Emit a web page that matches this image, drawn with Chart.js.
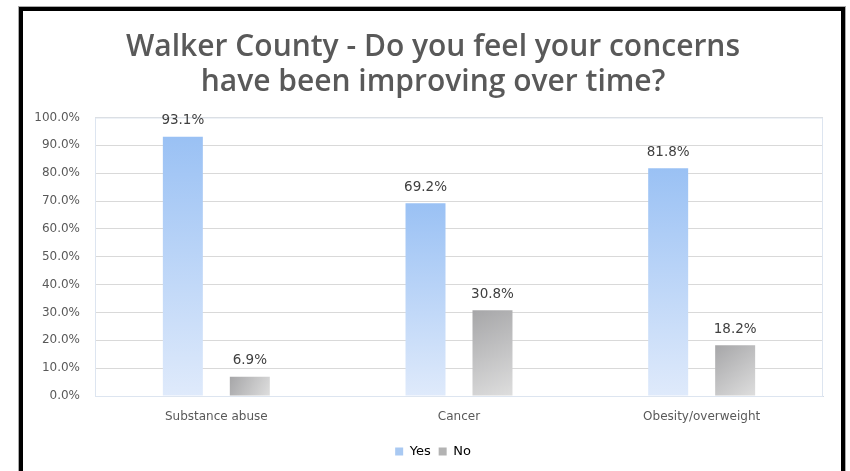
<!DOCTYPE html>
<html><head><meta charset="utf-8">
<script src="https://cdn.jsdelivr.net/npm/chart.js@4"></script>
<style>
html,body{margin:0;padding:0;background:#fff;}
#wrap{position:relative;width:850px;height:471px;overflow:hidden;}
#frame{position:absolute;left:19px;top:7px;width:818px;height:500px;border:4px solid #000;box-shadow:0 0 0 1px #aaa;pointer-events:none;}
canvas{position:absolute;left:0;top:0;}
</style></head><body>
<div id="wrap"><canvas id="c" width="850" height="471" style="width:850px;height:471px"></canvas><div id="frame"></div></div>
<script>
const titleLines = ['Walker County - Do you feel your concerns', 'have been improving over time?'];
const categories = ['Substance abuse', 'Cancer', 'Obesity/overweight'];
const seriesNames = ['Yes', 'No'];
const yesValues = [93.1, 69.2, 81.8];
const noValues = [6.9, 30.8, 18.2];
const yTickLabels = ['0.0%','10.0%','20.0%','30.0%','40.0%','50.0%','60.0%','70.0%','80.0%','90.0%','100.0%'];

const CAT_PCT = 0.552, BAR_PCT = 0.597;
const TEXT = '#595959';

function barGradient(ctx, kind) {
  const chart = ctx.chart;
  const xs = chart.scales.x, ys = chart.scales.y;
  const fallback = kind === 'yes' ? '#b5d1f6' : '#bdbdbd';
  if (!xs || !ys || ctx.type !== 'data') return fallback;
  const center = xs.getPixelForValue(ctx.dataIndex);
  const catW = xs.width / categories.length;
  const slot = catW * CAT_PCT / 2;
  const bx = center + (ctx.datasetIndex === 0 ? -slot / 2 : slot / 2);
  const bw = slot * BAR_PCT;
  const top = ys.getPixelForValue(ctx.raw);
  const bottom = ys.getPixelForValue(0);
  if (![bx, bw, top, bottom].every(Number.isFinite) || bottom - top < 1) return fallback;
  const c = chart.ctx;
  let g;
  if (kind === 'yes') {
    g = c.createLinearGradient(0, top, 0, bottom);
    g.addColorStop(0, '#9ac1f4');
    g.addColorStop(1, '#dfeafb');
  } else {
    g = c.createLinearGradient(bx - bw / 2, top, bx + bw / 2, bottom);
    g.addColorStop(0, '#a6a6a8');
    g.addColorStop(1, '#dedede');
  }
  return g;
}

const frameAndLabels = {
  id: 'frameAndLabels',
  beforeDatasetsDraw(chart) {
    const a = chart.chartArea, c = chart.ctx;
    c.save();
    c.strokeStyle = '#dde5f0';
    c.lineWidth = 1;
    c.strokeRect(a.left + 0.5, a.top + 0.5, a.right - a.left - 1, a.bottom - a.top);
    c.restore();
  },
  afterDatasetsDraw(chart) {
    const c = chart.ctx;
    c.save();
    c.font = '13.5px "DejaVu Sans"';
    c.fillStyle = '#404040';
    c.textAlign = 'center';
    c.textBaseline = 'middle';
    chart.data.datasets.forEach((ds, di) => {
      chart.getDatasetMeta(di).data.forEach((bar, i) => {
        c.fillText(ds.data[i].toFixed(1) + '%', bar.x, bar.y - 16);
      });
    });
    c.restore();
  }
};

new Chart(document.getElementById('c'), {
  type: 'bar',
  data: {
    labels: categories,
    datasets: [
      { label: seriesNames[0], data: yesValues, backgroundColor: ctx => barGradient(ctx, 'yes') },
      { label: seriesNames[1], data: noValues, backgroundColor: ctx => barGradient(ctx, 'no') }
    ]
  },
  options: {
    responsive: false,
    animation: false,
    devicePixelRatio: 1,
    layout: { padding: { left: 25, right: 9, top: 10, bottom: 3 } },
    datasets: { bar: { categoryPercentage: CAT_PCT, barPercentage: BAR_PCT } },
    scales: {
      x: {
        grid: { display: false },
        border: { display: true, color: '#d3dbe6', width: 1 },
        ticks: { color: TEXT, font: { family: 'DejaVu Sans', size: 12 }, padding: 6, maxRotation: 0 },
        afterFit: s => { s.height = 41; }
      },
      y: {
        min: 0, max: 100,
        ticks: { stepSize: 10, color: TEXT, font: { family: 'DejaVu Sans', size: 12 }, padding: 15,
                 callback: (v, i) => yTickLabels[i] },
        grid: { color: '#d9d9d9', drawTicks: false },
        border: { display: false },
        afterFit: s => { s.width = 70; }
      },
      yRight: {
        position: 'right', min: 0, max: 100,
        grid: { display: false, drawTicks: false },
        border: { display: false },
        ticks: { display: false },
        afterFit: s => { s.width = 18; }
      }
    },
    plugins: {
      title: {
        display: true, text: titleLines, color: TEXT,
        font: { family: 'Open Sans', size: 30, weight: '600', lineHeight: 1.1667 },
        padding: { top: 20, bottom: 17.5 }
      },
      legend: {
        position: 'bottom',
        labels: {
          color: TEXT, font: { family: 'DejaVu Sans', size: 13 }, boxWidth: 8, boxHeight: 8, padding: 8,
          generateLabels: chart => seriesNames.map((n, i) => ({
            text: n, fillStyle: i === 0 ? '#a9c9f2' : '#b3b3b3', strokeStyle: 'transparent', lineWidth: 0,
            datasetIndex: i, hidden: false
          }))
        }
      },
      tooltip: { enabled: false }
    }
  },
  plugins: [frameAndLabels]
});
</script>
</body></html>
